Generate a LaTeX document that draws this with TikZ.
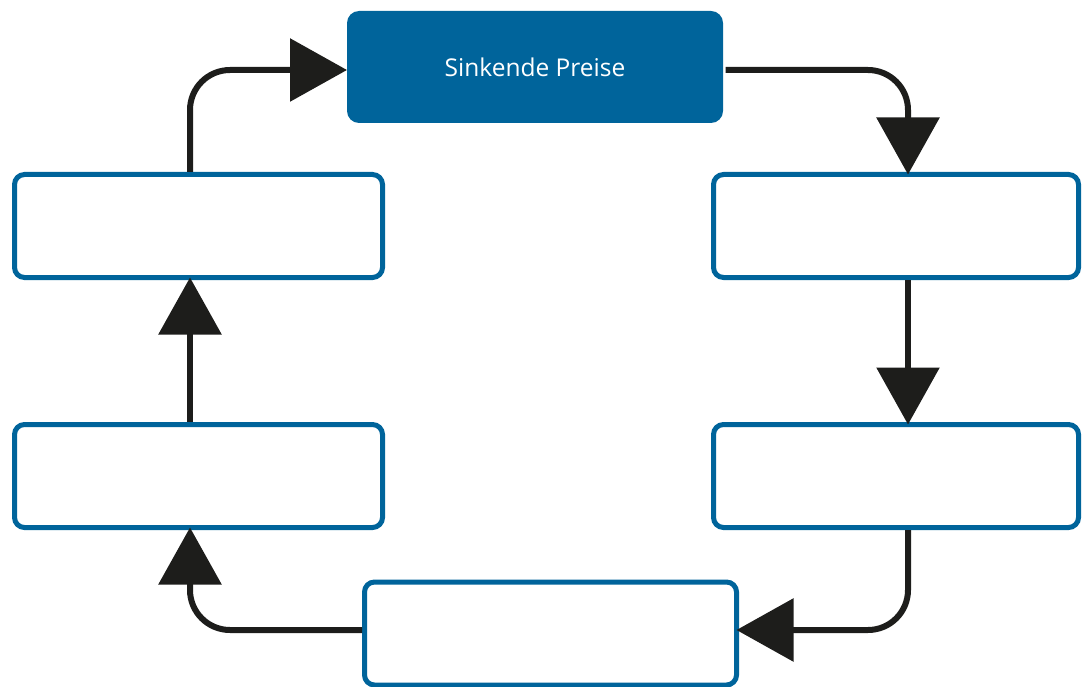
\documentclass[tikz,border=0pt]{standalone}
\usepackage{fontspec}
\setmainfont{Open Sans}
\usetikzlibrary{arrows.meta,calc}
\definecolor{boxblue}{HTML}{00649B}
\definecolor{ink}{HTML}{1D1D1B}
\begin{document}
\begin{tikzpicture}[x=1pt,y=-1pt,
  stepbox/.style={draw=boxblue, line width=5pt, rounded corners=10pt, fill=white,
    minimum width=368pt, minimum height=103pt, inner sep=0pt, outer sep=0pt},
  mainbox/.style={fill=boxblue, rounded corners=12pt, minimum width=376pt,
    minimum height=112pt, text=white, font=\fontsize{24.5}{28}\selectfont,
    inner sep=0pt, outer sep=0pt},
  conn/.style={draw=ink, line width=6pt, rounded corners=40pt, shorten <=2.5pt,
    -{Triangle[length=57pt,width=62pt]}}]
\useasboundingbox (0,0) rectangle (1083,687);
\node[mainbox] (top) at (535,67) {\raisebox{-2pt}{Sinkende Preise}};
\node[stepbox] (l1) at (198.5,226) {};
\node[stepbox] (l2) at (198.5,476) {};
\node[stepbox, minimum width=365pt] (r1) at (896,226) {};
\node[stepbox, minimum width=365pt] (r2) at (896,476) {};
\node[stepbox, minimum width=372pt] (b) at (550.5,633.5) {};
\coordinate (xl) at (190,0);
\coordinate (xr) at (908,0);
\coordinate (yt) at (0,70);
\coordinate (yb) at (0,630);
\draw[conn] (l1.north -| xl) |- (top.west |- yt);
\draw[conn] (top.east |- yt) -| (r1.north -| xr);
\draw[conn] (r1.south -| xr) -- (r2.north -| xr);
\draw[conn] (r2.south -| xr) |- (b.east |- yb);
\draw[conn] (b.west |- yb) -| (l2.south -| xl);
\draw[conn] (l2.north -| xl) -- (l1.south -| xl);
\end{tikzpicture}
\end{document}
